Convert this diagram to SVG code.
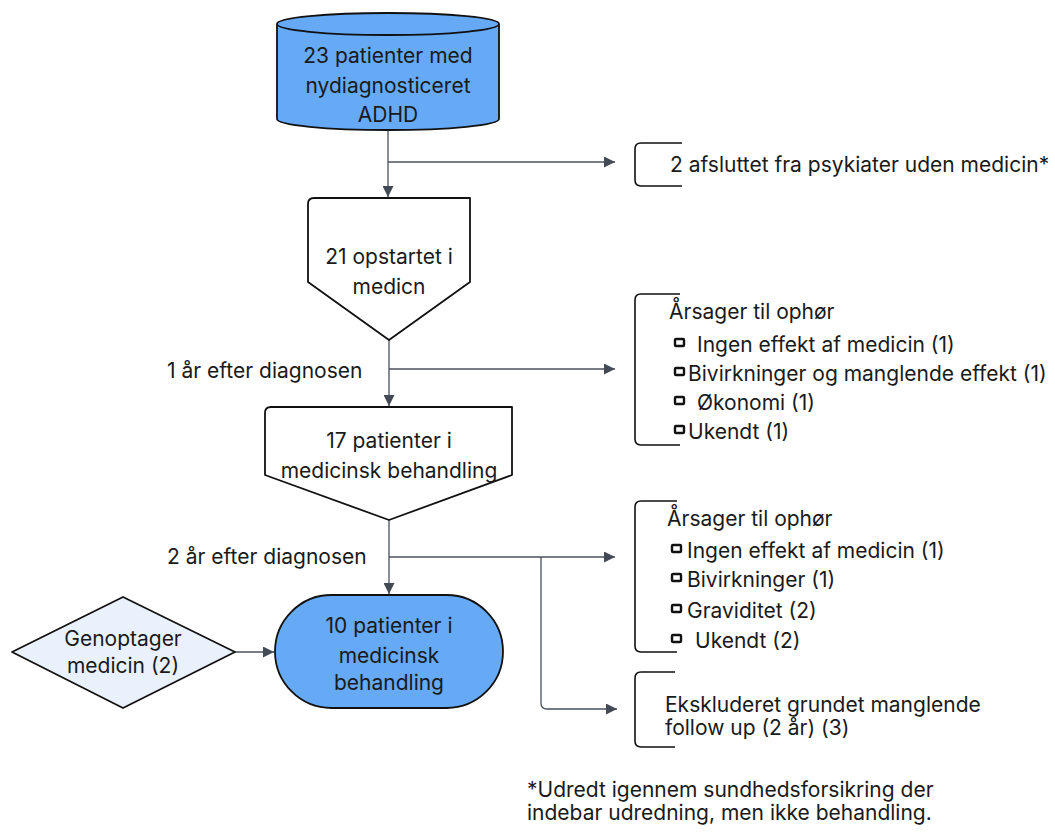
<svg xmlns="http://www.w3.org/2000/svg" width="1055" height="832" viewBox="0 0 1055 832">
<style>
  text { font-family: Inter, "Liberation Sans", Arial, sans-serif; font-size: 21px; fill: #1a1a1a; }
  .c { text-anchor: middle; }
  .shape { stroke: #111; stroke-width: 1.8; stroke-linejoin: round; }
  .conn { fill: none; stroke: #4a515e; stroke-width: 1.3; }
  .br { fill: none; stroke: #111; stroke-width: 1.6; }
  .sq { fill: #fff; stroke: #111; stroke-width: 2.4; }
</style>
<defs>
  <marker id="arr" viewBox="0 0 10 10" refX="10" refY="5" markerWidth="13" markerHeight="11" markerUnits="userSpaceOnUse" orient="auto">
    <path d="M0,0 L10,5 L0,10 z" fill="#434a56"/>
  </marker>
</defs>
<rect width="1055" height="832" fill="#fff"/>

<g id="connectors">
  <path class="conn" d="M388,130 V197" marker-end="url(#arr)"/>
  <path class="conn" d="M388,162 H615" marker-end="url(#arr)"/>
  <path class="conn" d="M389,340 V406" marker-end="url(#arr)"/>
  <path class="conn" d="M389,369 H615" marker-end="url(#arr)"/>
  <path class="conn" d="M389,520 V594" marker-end="url(#arr)"/>
  <path class="conn" d="M389,557 H615" marker-end="url(#arr)"/>
  <path class="conn" d="M541,557 V703 Q541,709 547,709 H617" marker-end="url(#arr)"/>
  <path class="conn" d="M235,652 H274" marker-end="url(#arr)"/>
</g>

<g id="n_start">
  <path class="shape" fill="#66a9f5" d="M277,24 V119 A111,11 0 0 0 499,119 V24 A111,11 0 0 0 277,24 A111,11 0 0 0 499,24"/>
  <text class="c" x="388" y="63">23 patienter med</text>
  <text class="c" x="388" y="93">nydiagnosticeret</text>
  <text class="c" x="388" y="122">ADHD</text>
</g>

<g id="n_excl1">
  <path class="br" d="M682,143 H641 Q635,143 635,149 V180 Q635,186 641,186 H682"/>
  <text x="670" y="172">2 afsluttet fra psykiater uden medicin*</text>
</g>

<g id="n_started">
  <path class="shape" fill="#fff" d="M314,198 H470 V282 L389,340 L308,282 V204 Q308,198 314,198 Z"/>
  <text class="c" x="389" y="264">21 opstartet i</text>
  <text class="c" x="389" y="294">medicn</text>
</g>

<text x="167" y="378">1 år efter diagnosen</text>

<g id="n_reasons1">
  <path class="br" d="M680,294 H641 Q635,294 635,300 V439 Q635,445 641,445 H680"/>
  <text x="669" y="319">Årsager til ophør</text>
  <rect class="sq" x="675" y="339" width="9" height="7" rx="1"/>
  <text x="697" y="352">Ingen effekt af medicin (1)</text>
  <rect class="sq" x="675" y="368" width="9" height="7" rx="1"/>
  <text x="688" y="381">Bivirkninger og manglende effekt (1)</text>
  <rect class="sq" x="675" y="397" width="9" height="7" rx="1"/>
  <text x="697" y="410">Økonomi (1)</text>
  <rect class="sq" x="675" y="426" width="9" height="7" rx="1"/>
  <text x="688" y="439">Ukendt (1)</text>
</g>

<g id="n_year1">
  <path class="shape" fill="#fff" d="M271,407 H512 V475 L389,520 L265,475 V413 Q265,407 271,407 Z"/>
  <text class="c" x="389" y="448">17 patienter i</text>
  <text class="c" x="389" y="478">medicinsk behandling</text>
</g>

<text x="167" y="564">2 år efter diagnosen</text>

<g id="n_reasons2">
  <path class="br" d="M677,501 H641 Q635,501 635,507 V646 Q635,652 641,652 H677"/>
  <text x="667" y="526">Årsager til ophør</text>
  <rect class="sq" x="672" y="545" width="9" height="7" rx="1"/>
  <text x="687" y="558">Ingen effekt af medicin (1)</text>
  <rect class="sq" x="672" y="574" width="9" height="7" rx="1"/>
  <text x="687" y="587">Bivirkninger (1)</text>
  <rect class="sq" x="672" y="605" width="9" height="7" rx="1"/>
  <text x="687" y="618">Graviditet (2)</text>
  <rect class="sq" x="672" y="635" width="9" height="7" rx="1"/>
  <text x="695" y="648">Ukendt (2)</text>
</g>

<g id="n_resume">
  <path class="shape" fill="#e9f1fd" d="M123,597 L235,652 L123,708 L12,652 Z"/>
  <text class="c" x="123" y="646">Genoptager</text>
  <text class="c" x="123" y="673">medicin (2)</text>
</g>

<g id="n_year2">
  <rect class="shape" fill="#66a9f5" x="275" y="595" width="228" height="113" rx="56.5"/>
  <text class="c" x="389" y="633">10 patienter i</text>
  <text class="c" x="389" y="663">medicinsk</text>
  <text class="c" x="389" y="690">behandling</text>
</g>

<g id="n_excl2">
  <path class="br" d="M675,672 H641 Q635,672 635,678 V741 Q635,747 641,747 H675"/>
  <text x="665" y="712">Ekskluderet grundet manglende</text>
  <text x="665" y="735">follow up (2 år) (3)</text>
</g>

<g id="footnote">
  <text x="527" y="797">*Udredt igennem sundhedsforsikring der</text>
  <text x="527" y="820">indebar udredning, men ikke behandling.</text>
</g>
</svg>
